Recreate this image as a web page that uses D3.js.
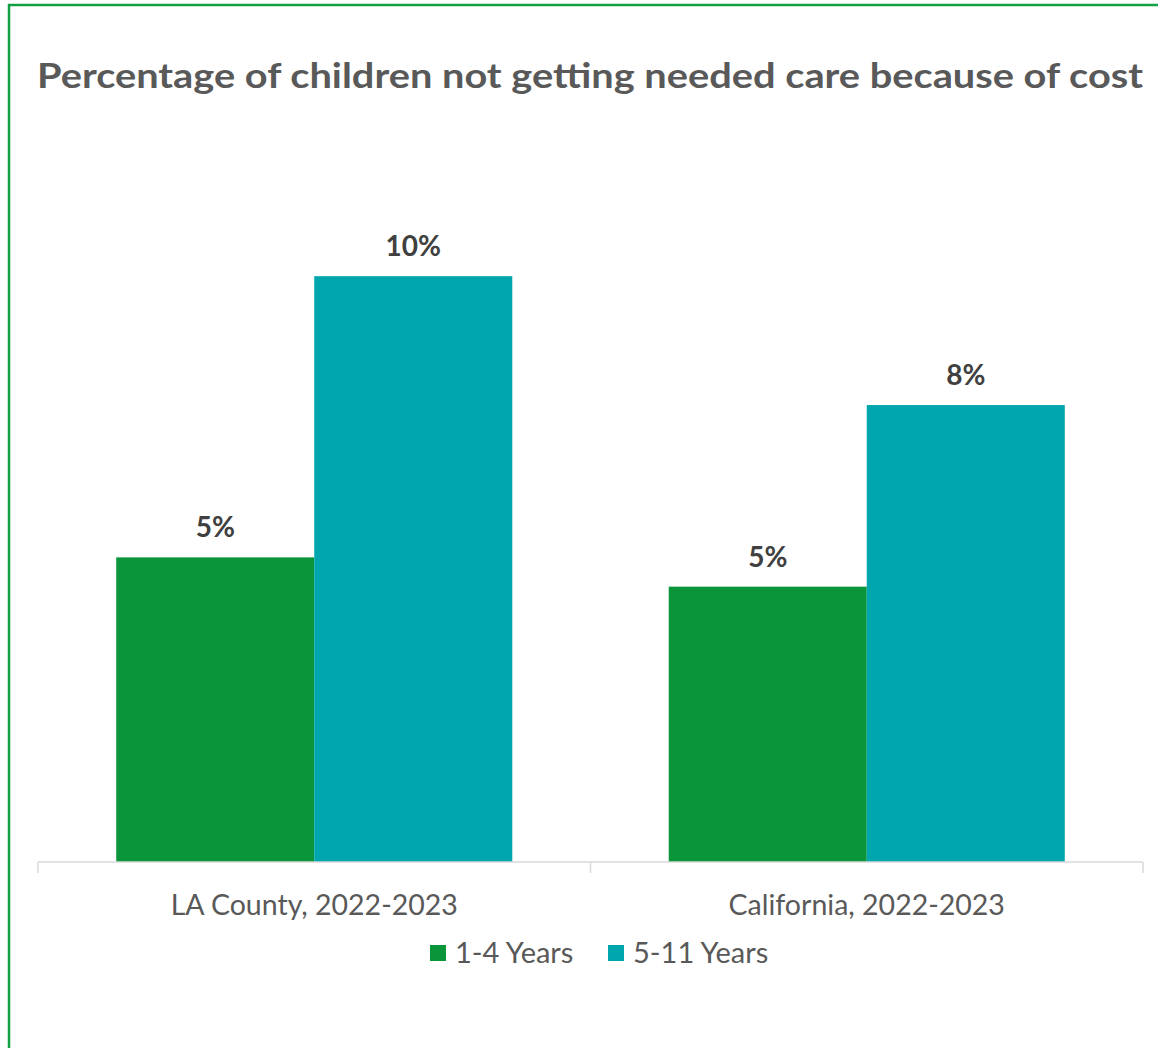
<!DOCTYPE html>
<html><head><meta charset="utf-8">
<script src="https://cdn.jsdelivr.net/npm/d3@7"></script>
<style>body{margin:0;background:#fff}svg{display:block}</style>
</head><body>
<script>
const categories = ["LA County, 2022-2023", "California, 2022-2023"];
const seriesNames = ["1-4 Years", "5-11 Years"];
const values1to4 = [5.2, 4.7];
const values5to11 = [10.0, 7.8];
const seriesColors = ["#0a953a", "#00a6ae"];
const title = "Percentage of children not getting needed care because of cost";

const W = 1158, H = 1048;
const svg = d3.select("body").append("svg").attr("width", W).attr("height", H);
svg.append("rect").attr("x", 0).attr("y", 0).attr("width", W).attr("height", H).attr("fill", "#fff");
svg.append("path").attr("d", `M9,${H+5} V5 H${W+5}`).attr("fill", "none").attr("stroke", "#13a043").attr("stroke-width", 2.5);

const font = "Lato, 'Open Sans', sans-serif";
svg.append("text").attr("x", 37).attr("y", 88).attr("fill", "#595959")
  .attr("font-family", font).attr("font-weight", "bold").attr("font-size", 35)
  .attr("textLength", 1106).attr("lengthAdjust", "spacingAndGlyphs").text(title);

const x0 = d3.scaleBand().domain(categories).range([38, 1143]).paddingInner(0).paddingOuter(0);
const x1 = d3.scaleBand().domain(seriesNames).range([0, x0.bandwidth()]).paddingInner(0).paddingOuter(0.395);
const y = d3.scaleLinear().domain([0, 12]).range([862, 159]);

const data = categories.map((c, i) => ({cat: c, vals: [values1to4[i], values5to11[i]]}));
const g = svg.append("g");
const groups = g.selectAll("g.cat").data(data).join("g").attr("transform", d => `translate(${x0(d.cat)},0)`);
groups.selectAll("rect").data(d => d.vals.map((v, j) => ({v, s: seriesNames[j], j})))
  .join("rect").attr("x", d => x1(d.s)).attr("width", x1.bandwidth())
  .attr("y", d => y(d.v)).attr("height", d => y(0) - y(d.v)).attr("fill", d => seriesColors[d.j]);
groups.selectAll("text.lbl").data(d => d.vals.map((v, j) => ({v, s: seriesNames[j], j})))
  .join("text").attr("class", "lbl").attr("x", d => x1(d.s) + x1.bandwidth() / 2).attr("y", d => y(d.v) - 20)
  .attr("text-anchor", "middle").attr("fill", "#404040").attr("font-family", font).attr("font-weight", "bold")
  .attr("font-size", 28).text(d => d3.format(".0f")(d.v) + "%");

const axis = d3.axisBottom(x0).tickSize(0).tickPadding(0);
const ax = svg.append("g").attr("transform", `translate(0,862)`).call(axis);
ax.select(".domain").remove();
ax.selectAll("text").remove();
ax.append("line").attr("x1", 38).attr("x2", 1143).attr("stroke", "#d9d9d9").attr("stroke-width", 1.5);
const bounds = [x0.range()[0], ...categories.map(c => x0(c) + x0.bandwidth())];
ax.selectAll("line.tk").data(bounds).join("line").attr("class", "tk")
  .attr("x1", d => d).attr("x2", d => d).attr("y1", 0).attr("y2", 11).attr("stroke", "#d9d9d9").attr("stroke-width", 1.5);
ax.selectAll("text.cl").data(categories).join("text").attr("class", "cl")
  .attr("x", d => x0(d) + x0.bandwidth() / 2).attr("y", 53).attr("text-anchor", "middle")
  .attr("fill", "#595959").attr("font-family", font).attr("font-size", 28.5).text(d => d);

const lg = svg.append("g");
const legX = [430, 608];
seriesNames.forEach((s, i) => {
  lg.append("rect").attr("x", legX[i]).attr("y", 945).attr("width", 16).attr("height", 16).attr("fill", seriesColors[i]);
  lg.append("text").attr("x", legX[i] + 25).attr("y", 963).attr("fill", "#595959").attr("font-family", font)
    .attr("font-size", 29).text(s);
});
</script>
</body></html>
